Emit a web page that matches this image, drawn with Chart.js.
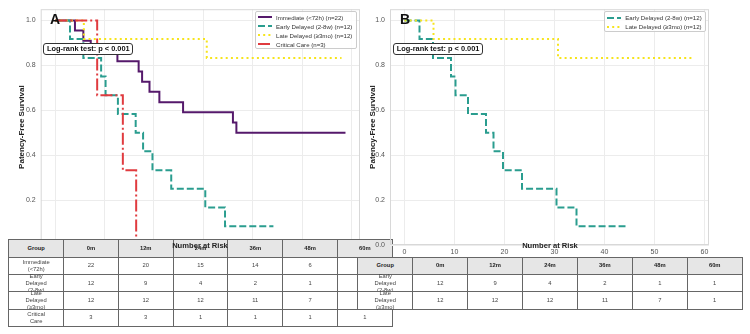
<!DOCTYPE html>
<html>
<head>
<meta charset="utf-8">
<script src="https://cdn.jsdelivr.net/npm/chart.js@4.4.0/dist/chart.umd.min.js"></script>
<style>
  body { margin: 0; background: #fff; font-family: "Liberation Sans", Arial, sans-serif; }
  #wrap { position: relative; width: 750px; height: 334px; overflow: hidden; }
  canvas { position: absolute; top: 0; }
  .legend { position: absolute; background: rgba(255,255,255,0.85); border: 1px solid #ccc; border-radius: 2px; box-sizing: border-box; }
  .legend .item { position: absolute; left: 2px; height: 9px; display: flex; align-items: center; font-size: 6.1px; color: #333; white-space: nowrap; }
  .legend svg { margin-right: 4px; }
  .stat { position: absolute; height: 12.4px; box-sizing: border-box; border: 1px solid #333; border-radius: 3px; background: #fff;
          font-weight: bold; font-size: 7.4px; color: #111; display: flex; align-items: center; justify-content: center; white-space: nowrap; }
  .letter { position: absolute; font-weight: bold; font-size: 14px; color: #111; line-height: 14px; }
  .cell { position: absolute; box-sizing: border-box; border: 1px solid #666; background: #fff; display: flex; align-items: center; justify-content: center;
          text-align: center; font-size: 5.8px; line-height: 7px; color: #444; white-space: pre-line; }
  .cell.head { background: #e6e6e6; font-weight: bold; color: #222; }
  .risk-title { position: absolute; font-weight: bold; font-size: 7.6px; color: #222; white-space: nowrap; transform: translate(-50%, -50%); }
</style>
</head>
<body>
<div id="wrap">
  <canvas id="chartA" width="362" height="270" style="left:0; z-index:1"></canvas>
  <canvas id="chartB" width="388" height="270" style="left:362px; z-index:5"></canvas>
</div>
<script>
// Kaplan-Meier curves, time in months
const immediateT = [0, 4.0, 5.7, 7.2, 12.6, 16.9, 17.6, 19.1, 21.1, 25.9, 36.0, 36.7, 58.8];
const immediateS = [1, 0.955, 0.909, 0.864, 0.818, 0.773, 0.727, 0.682, 0.636, 0.591, 0.545, 0.5, 0.5];
const earlyT = [0, 3.0, 5.7, 9.3, 10.2, 12.7, 16.3, 17.8, 19.7, 23.5, 30.4, 34.4, 44.2];
const earlyS = [1, 0.917, 0.833, 0.75, 0.667, 0.583, 0.5, 0.417, 0.333, 0.25, 0.167, 0.083, 0.083];
const lateT = [0, 5.8, 30.7, 58.0];
const lateS = [1, 0.917, 0.833, 0.833];
const criticalT = [0, 8.5, 13.7, 16.4];
const criticalS = [1, 0.667, 0.333, 0];

const xTicks = [0, 10, 20, 30, 40, 50, 60];
const yTicks = [0, 0.2, 0.4, 0.6, 0.8, 1.0];

// number at risk
const riskCols = ['Group', '0m', '12m', '24m', '36m', '48m', '60m'];
const riskImmediate = [22, 20, 15, 14, 6, 1];
const riskEarly = [12, 9, 4, 2, 1, 1];
const riskLate = [12, 12, 12, 11, 7, 1];
const riskCritical = [3, 3, 1, 1, 1, 1];

const FONT = '"Liberation Sans", Arial, sans-serif';

const series = {
  immediate: { label: 'Immediate (<72h) (n=22)', name: 'Immediate\n(<72h)', t: immediateT, s: immediateS, color: '#55196b', dash: [] },
  early: { label: 'Early Delayed (2-8w) (n=12)', name: 'Early\nDelayed\n(2-8w)', t: earlyT, s: earlyS, color: '#2a9d8f', dash: [7, 3] },
  late: { label: 'Late Delayed (\u22653mo) (n=12)', name: 'Late\nDelayed\n(\u22653mo)', t: lateT, s: lateS, color: '#f6e41c', dash: [2, 3.2] },
  critical: { label: 'Critical Care (n=3)', name: 'Critical\nCare', t: criticalT, s: criticalS, color: '#e03b3f', dash: [12, 3, 2, 3] }
};

function dataset(sr, order) {
  return {
    label: sr.label,
    data: sr.t.map((t, i) => ({ x: t, y: sr.s[i] })),
    borderColor: sr.color,
    borderDash: sr.dash,
    borderWidth: 2,
    stepped: true,
    pointRadius: 0,
    fill: false,
    order: order
  };
}

const frame = {
  id: 'frame',
  afterDraw(chart) {
    const { ctx, chartArea: a } = chart;
    ctx.save();
    ctx.strokeStyle = '#d8d8d8';
    ctx.lineWidth = 1;
    ctx.strokeRect(a.left + 0.5, a.top + 0.5, a.width - 1, a.height - 1);
    ctx.restore();
  }
};

function makeChart(id, datasets, xmin, xmax, yWidth, titlePad, padRight) {
  return new Chart(document.getElementById(id), {
    type: 'line',
    data: { datasets: datasets },
    plugins: [frame],
    options: {
      responsive: false,
      animation: false,
      devicePixelRatio: 1,
      layout: { padding: { left: 0, right: padRight, top: 7.7, bottom: 0 } },
      plugins: { legend: { display: false }, tooltip: { enabled: false } },
      scales: {
        x: {
          type: 'linear', min: xmin, max: xmax,
          grid: { color: '#ececec', drawTicks: false },
          border: { display: false },
          ticks: { font: { size: 7, family: FONT }, color: '#555', padding: 3, autoSkip: false, maxRotation: 0, callback: v => String(v) },
          afterBuildTicks: s => { s.ticks = xTicks.map(v => ({ value: v })); },
          afterFit: s => { s.height = 25; }
        },
        y: {
          type: 'linear', min: 0, max: 1.05,
          grid: { color: '#ececec', drawTicks: false },
          border: { display: false },
          ticks: { font: { size: 7, family: FONT }, color: '#555', padding: 5, autoSkip: false, callback: v => v.toFixed(1) },
          afterBuildTicks: s => { s.ticks = yTicks.map(v => ({ value: v })); },
          afterFit: s => { s.width = yWidth; },
          title: { display: true, text: 'Patency-Free Survival', color: '#222', font: { size: 8, weight: 'bold', family: FONT }, padding: { top: titlePad, bottom: 0 } }
        }
      }
    }
  });
}

makeChart('chartA', [
  dataset(series.immediate, 3), dataset(series.early, 2), dataset(series.late, 1), dataset(series.critical, 0)
], -2.94, 61.74, 40.7, 17, 2);

makeChart('chartB', [
  dataset(series.early, 1), dataset(series.late, 0)
], -2.9, 60.9, 28, 5.5, 41);

const wrap = document.getElementById('wrap');

function add(cls, style, text, z) {
  const d = document.createElement('div');
  d.className = cls;
  Object.assign(d.style, style);
  d.style.zIndex = z;
  if (text !== undefined) d.textContent = text;
  wrap.appendChild(d);
  return d;
}

function legend(left, top, width, items, z) {
  const box = add('legend', { left: left + 'px', top: top + 'px', width: width + 'px', height: (items.length * 9.1 + 2.4) + 'px' }, undefined, z);
  items.forEach((sr, i) => {
    const row = document.createElement('div');
    row.className = 'item';
    row.style.top = (1 + i * 9.1) + 'px';
    row.innerHTML = '<svg width="14" height="4"><line x1="0" y1="2" x2="14" y2="2" stroke="' + sr.color +
      '" stroke-width="2" stroke-dasharray="' + (sr.dash.length ? sr.dash.join(' ') : 'none') + '"/></svg>';
    row.appendChild(document.createTextNode(sr.label));
    box.appendChild(row);
  });
}

function riskTable(left, top, width, rowH, groups, rows, z) {
  const colW = width / riskCols.length;
  riskCols.forEach((c, j) => {
    add('cell head', { left: (left + j * colW) + 'px', top: top + 'px', width: (colW + 1) + 'px', height: (rowH + 1) + 'px' }, c, z);
  });
  groups.forEach((g, i) => {
    const y = top + (i + 1) * rowH;
    add('cell', { left: left + 'px', top: y + 'px', width: (colW + 1) + 'px', height: (rowH + 1) + 'px' }, g.name, z);
    rows[i].forEach((v, j) => {
      add('cell', { left: (left + (j + 1) * colW) + 'px', top: y + 'px', width: (colW + 1) + 'px', height: (rowH + 1) + 'px' }, String(v), z);
    });
  });
}

// panel A overlays
add('letter', { left: '50px', top: '12px' }, 'A', 2);
add('stat', { left: '43.3px', top: '42.7px', width: '90px' }, 'Log-rank test: p < 0.001', 2);
legend(255, 10.7, 102, [series.immediate, series.early, series.late, series.critical], 2);
riskTable(8.3, 239.3, 383.4, 17.35,
  [series.immediate, series.early, series.late, series.critical],
  [riskImmediate, riskEarly, riskLate, riskCritical], 3);
add('risk-title', { left: '200px', top: '245px' }, 'Number at Risk', 4);

// panel B overlays
add('letter', { left: '400px', top: '12px' }, 'B', 6);
add('stat', { left: '393.3px', top: '42.7px', width: '89.5px' }, 'Log-rank test: p < 0.001', 6);
legend(604.3, 11, 102, [series.early, series.late], 6);
riskTable(357.3, 256.7, 384.4, 17.3, [series.early, series.late], [riskEarly, riskLate], 7);
add('risk-title', { left: '550px', top: '245px' }, 'Number at Risk', 8);
</script>
</body>
</html>
